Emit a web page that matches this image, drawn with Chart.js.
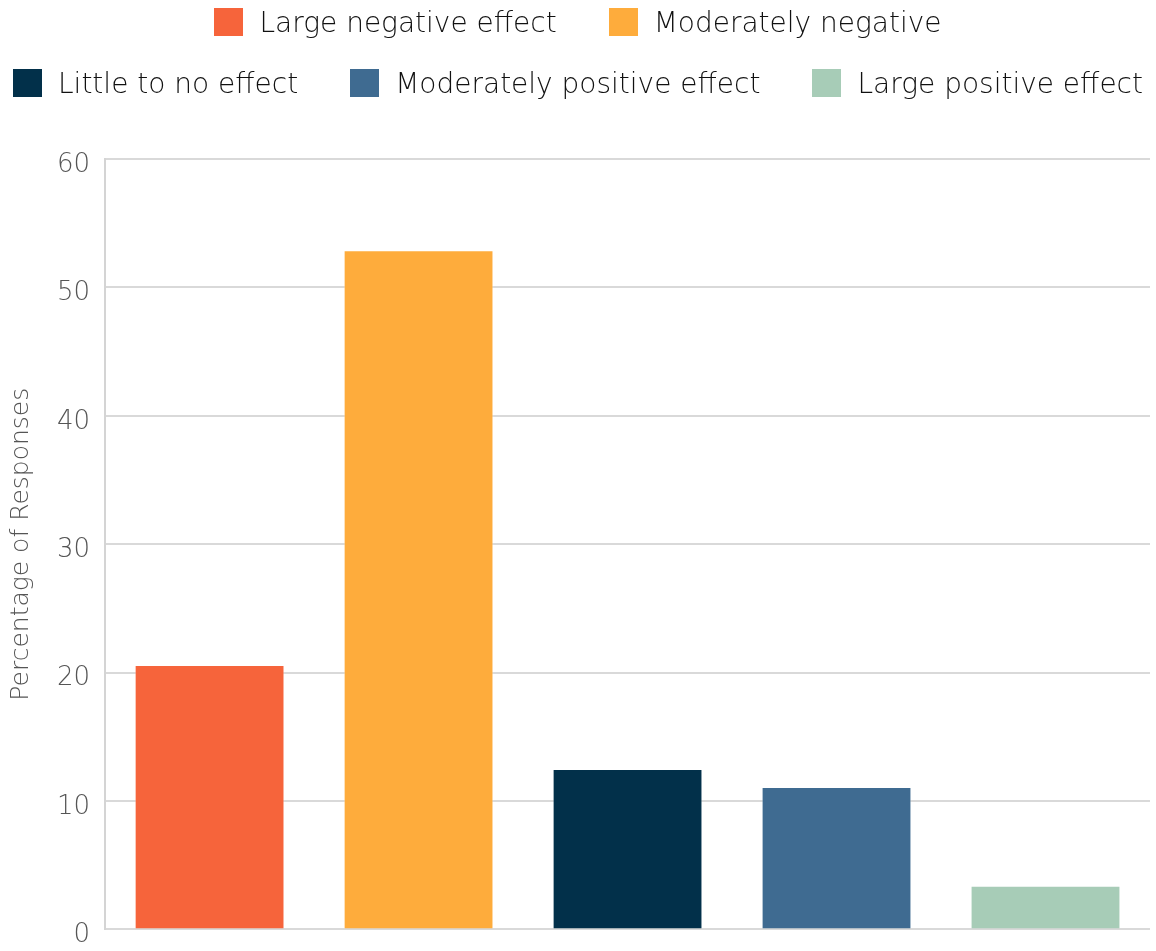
<!DOCTYPE html>
<html>
<head>
<meta charset="utf-8">
<script src="https://cdn.jsdelivr.net/npm/chart.js@4/dist/chart.umd.min.js"></script>
<style>
  html, body { margin: 0; padding: 0; background: #ffffff; overflow: hidden; }
  #wrap { position: relative; width: 1156px; height: 951px; overflow: hidden; }
  #chart { position: absolute; left: 0; top: 0; }
  .legend-row {
    position: absolute; left: 0; width: 1156px;
    display: flex; justify-content: center; align-items: center;
    font-family: "Century Gothic", "DejaVu Sans", sans-serif;
    font-weight: 300; font-size: 28px; color: #111;
  }
  .legend-item { display: flex; align-items: center; margin: 0 26px; white-space: nowrap; }
  .legend-box { width: 29px; height: 28px; margin-right: 16px; }
</style>
</head>
<body>
<div id="wrap">
  <canvas id="chart" width="1156" height="960"></canvas>
  <div class="legend-row" id="row1" style="top:7px;height:30px;"></div>
  <div class="legend-row" id="row2" style="top:68px;height:30px;"></div>
</div>
<script>
// Response categories and their share of responses (%)
const categories = [
  "Large negative effect",
  "Moderately negative",
  "Little to no effect",
  "Moderately positive effect",
  "Large positive effect"
];
const percentages = [20.6, 52.9, 12.5, 11.1, 3.4];
const barColors = ["#F6643B", "#FEAC3C", "#02304A", "#3F6B91", "#A7CCB7"];
const yTicks = [0, 10, 20, 30, 40, 50, 60];
const legendRows = [[0, 1], [2, 3, 4]];

const fontFamily = '"Century Gothic", "DejaVu Sans", sans-serif';

// Legend laid out in two rows above the plot
legendRows.forEach((row, r) => {
  const el = document.getElementById(r === 0 ? "row1" : "row2");
  row.forEach(i => {
    const item = document.createElement("div");
    item.className = "legend-item";
    const box = document.createElement("div");
    box.className = "legend-box";
    box.style.background = barColors[i];
    const label = document.createElement("span");
    label.textContent = categories[i];
    item.appendChild(box);
    item.appendChild(label);
    el.appendChild(item);
  });
});

new Chart(document.getElementById("chart"), {
  type: "bar",
  data: {
    labels: categories,
    datasets: [{
      label: "Percentage of Responses",
      data: percentages,
      backgroundColor: barColors,
      borderColor: "rgba(255,255,255,0.35)",
      borderWidth: 1,
      categoryPercentage: 1.0,
      barPercentage: 0.717
    }]
  },
  options: {
    responsive: false,
    animation: false,
    layout: { padding: { top: 159, right: 6, bottom: 0, left: 6 } },
    plugins: { legend: { display: false }, tooltip: { enabled: false } },
    scales: {
      x: {
        display: false
      },
      y: {
        min: 0,
        max: 60,
        afterBuildTicks: axis => { axis.ticks = yTicks.map(v => ({ value: v })); },
        grid: { color: "#d9d9d9", lineWidth: 2, drawTicks: false },
        border: { display: true, color: "#d4d4d4", width: 2 },
        ticks: {
          color: "#555555",
          padding: 15,
          labelOffset: 6,
          font: { family: fontFamily, size: 26, weight: 300 }
        },
        title: {
          display: true,
          text: "Percentage of Responses",
          color: "#555555",
          padding: { top: 0, bottom: 6 },
          font: { family: fontFamily, size: 25, weight: 300 }
        }
      }
    }
  }
});
</script>
</body>
</html>
